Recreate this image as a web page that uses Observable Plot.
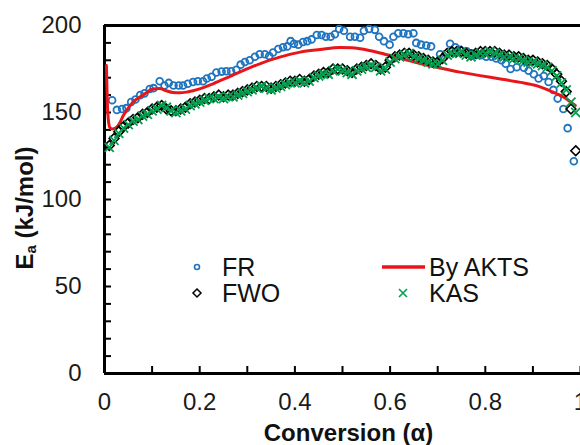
<!DOCTYPE html>
<html><head><meta charset="utf-8">
<script src="https://cdn.jsdelivr.net/npm/d3@7"></script>
<script src="https://cdn.jsdelivr.net/npm/@observablehq/plot@0.6"></script>
<style>body{margin:0;background:#fff;} #chart{width:580px;height:445px;overflow:hidden;}</style>
</head><body><div id="chart"></div>
<script>
// Conversion grid shared by FWO and KAS
const isoAlpha = [0.01,0.02,0.03,0.04,0.05,0.06,0.07,0.08,0.09,0.10,
  0.11,0.12,0.13,0.14,0.15,0.16,0.17,0.18,0.19,0.20,
  0.21,0.22,0.23,0.24,0.25,0.26,0.27,0.28,0.29,0.30,
  0.31,0.32,0.33,0.34,0.35,0.36,0.37,0.38,0.39,0.40,
  0.41,0.42,0.43,0.44,0.45,0.46,0.47,0.48,0.49,0.50,
  0.51,0.52,0.53,0.54,0.55,0.56,0.57,0.58,0.59,0.60,
  0.61,0.62,0.63,0.64,0.65,0.66,0.67,0.68,0.69,0.70,
  0.71,0.72,0.73,0.74,0.75,0.76,0.77,0.78,0.79,0.80,
  0.81,0.82,0.83,0.84,0.85,0.86,0.87,0.88,0.89,0.90,
  0.91,0.92,0.93,0.94,0.95,0.96,0.97,0.98,0.99];
const kasEa = [130,134,138,141,143,145,146,148,149,151,
  152,154,153,151,150,151,152,154,155,156,
  157,158,158,159,158,159,159,160,161,162,
  163,164,165,164,163,164,165,166,167,167,
  168,167,168,170,171,172,172,174,175,174,
  173,172,174,175,176,177,176,174,175,179,
  181,182,183,184,182,181,180,179,178,178,
  180,183,184,184,185,183,182,183,184,184,
  185,184,183,182,182,181,181,180,179,179,
  178,177,176,174,171,167,163,156,150];
const fwoEa = [131,135,139,142,144,146,147,149,150,152,
  153,154,152,151,151,152,153,155,156,157,
  158,158,159,160,159,160,160,161,162,163,
  164,165,165,165,164,165,166,167,168,168,
  169,168,169,171,172,173,173,175,175,175,
  174,173,175,176,177,178,177,175,176,180,
  182,183,184,184,183,182,181,180,179,179,
  181,184,185,185,185,184,183,184,185,185,
  185,185,184,183,183,182,182,181,180,180,
  179,178,177,175,172,168,162,152,128];

// Friedman (FR)
const frAlpha = [0.016,0.026,0.037,0.046,0.056,0.065,0.075,0.084,0.095,0.103,
  0.116,0.126,0.135,0.145,0.156,0.165,0.175,0.186,0.196,0.207,
  0.215,0.225,0.235,0.246,0.256,0.266,0.277,0.286,0.295,0.305,
  0.316,0.326,0.337,0.346,0.354,0.365,0.375,0.384,0.391,0.398,
  0.407,0.417,0.426,0.435,0.446,0.456,0.465,0.475,0.484,0.493,
  0.503,0.516,0.526,0.537,0.545,0.556,0.568,0.577,0.587,0.599,
  0.607,0.617,0.628,0.638,0.649,0.655,0.665,0.676,0.686,0.705,
  0.726,0.737,0.747,0.761,0.771,0.781,0.792,0.802,0.813,0.823,
  0.834,0.843,0.853,0.866,0.881,0.891,0.902,0.912,0.923,0.933,
  0.943,0.952,0.964,0.973,0.986];
const frEa = [157,151.5,152,152.5,156,157.5,160,161,163.5,164,
  168,165.5,167,165.5,165.5,165.5,166.5,167.5,168,168,
  169.5,170.5,173,173.5,173.7,173.7,174.5,177.5,179,180,
  182,183.5,183.5,182.5,184.5,186.5,187.5,188,191,189.5,
  189,190.5,191,192,194.5,194.5,193.5,193.5,195,198,
  197,193.5,193.5,193,197,198,197.5,193.5,191,189,
  193.5,195.5,195.5,195,195.5,190,189,188.5,188,183.5,
  189.5,187.5,186,185.2,184,183,183,182,182,181,
  180,178,175,176,175.7,174,172,169.5,171,167.5,
  163,158,152,141,122];

// By AKTS
const aktsAlpha = [0.004,0.005,0.006,0.008,0.011,0.016,0.025,0.032,0.039,0.046,0.06,
  0.081,0.102,0.116,0.13,0.144,0.158,0.172,0.186,0.2,0.228,
  0.253,0.284,0.326,0.368,0.411,0.453,0.495,0.52,0.537,0.579,
  0.621,0.663,0.705,0.747,0.789,0.832,0.874,0.909,0.937,0.965,0.989];
const aktsEa = [177,166,155,146,141.5,140.5,141.5,144,148,151,156,
  160,163.5,163.8,162.5,161.5,161.3,161.7,162.5,163.6,166.5,
  169.4,173.2,178,181.8,184.7,186.2,187.4,187.2,186.6,184.2,
  181.2,178.2,175.6,173.2,171.2,169.3,167.3,165.3,162.3,158.8,154];

const yMajor = [0,50,100,150,200];
const yMinor = [0,10,20,30,40,50,60,70,80,90,100,110,120,130,140,150,160,170,180,190,200];
const xTicks = [0,0.1,0.2,0.3,0.4,0.5,0.6,0.7,0.8,0.9,1];
const xLabels = [0,0.2,0.4,0.6,0.8,1];

const colFR = "#1f74c0", colAKTS = "#e8161b", colKAS = "#00a04e", colFWO = "#000";

const fr = frAlpha.map((a,i)=>({a, e: frEa[i]}));
const kas = isoAlpha.map((a,i)=>({a, e: kasEa[i]}));
const fwo = isoAlpha.map((a,i)=>({a, e: fwoEa[i]}));
const akts = aktsAlpha.map((a,i)=>({a, e: aktsEa[i]}));

const plot = Plot.plot({
  width: 580, height: 445,
  marginLeft: 104, marginRight: 0, marginTop: 25, marginBottom: 72,
  x: {domain: [0, 1]},
  y: {domain: [0, 200]},
  style: {fontFamily: "'Liberation Sans', Arial, sans-serif", fontSize: "24px", color: "#111", background: "white", overflow: "visible"},
  marks: [
    Plot.axisY(yMinor, {tickSize: 7, dx: 7, tickFormat: () => "", strokeWidth: 2, stroke: "#000", label: null}),
    Plot.axisY(yMajor, {tickSize: 0, tickPadding: 23, fill: "#1a1a1a", fontSize: 24, label: null}),
    Plot.axisX(xTicks, {tickSize: 7, dy: -7, tickFormat: () => "", strokeWidth: 2, stroke: "#000", label: null}),
    Plot.axisX(xLabels, {tickSize: 0, tickPadding: 19, fill: "#1a1a1a", fontSize: 24, tickFormat: d => String(d), label: null}),
    Plot.ruleX([0], {stroke: "#000", strokeWidth: 3}),
    Plot.ruleY([0, 200], {stroke: "#000", strokeWidth: 3}),
    Plot.dot(fr, {x: "a", y: "e", r: 3.4, stroke: colFR, strokeWidth: 1.8, fill: "none"}),
    Plot.line(akts, {x: "a", y: "e", stroke: colAKTS, strokeWidth: 3, curve: "monotone-x"}),
    Plot.dot(fwo, {x: "a", y: "e", symbol: "diamond2", r: 4.4, stroke: colFWO, strokeWidth: 1.6, fill: "none"}),
    Plot.dot(kas, {x: "a", y: "e", symbol: "times", r: 4.2, stroke: colKAS, strokeWidth: 1.8}),
    Plot.text(["Conversion (α)"], {frameAnchor: "bottom", dy: 60, dx: 6, fontWeight: "bold", fontSize: 24, fill: "#111", lineAnchor: "middle"})
  ]
});
document.getElementById("chart").append(plot);

const svg = d3.select(plot);
// Y axis title with subscript
const yt = svg.append("text")
  .attr("transform", "translate(24,208) rotate(-90)")
  .attr("text-anchor", "middle").attr("dominant-baseline", "central")
  .attr("font-weight", "bold").attr("font-size", 24).attr("fill", "#111");
yt.append("tspan").text("E");
yt.append("tspan").attr("font-size", 15).attr("dy", 6).text("a");
yt.append("tspan").attr("dy", -6).text(" (kJ/mol)");

// Legend
const leg = svg.append("g").attr("font-size", 25).attr("fill", "#111").attr("text-anchor", "start");
const items = [
  {label: "FR", mx: 197, my: 267, kind: "circle"},
  {label: "FWO", mx: 197, my: 293, kind: "diamond"},
  {label: "By AKTS", mx: 403, my: 267, kind: "line"},
  {label: "KAS", mx: 403, my: 293, kind: "times"}
];
for (const it of items) {
  if (it.kind === "circle") leg.append("circle").attr("cx", it.mx).attr("cy", it.my).attr("r", 2.5).attr("fill", "none").attr("stroke", colFR).attr("stroke-width", 1.6);
  if (it.kind === "diamond") leg.append("path").attr("d", `M${it.mx},${it.my-4}L${it.mx+4},${it.my}L${it.mx},${it.my+4}L${it.mx-4},${it.my}Z`).attr("fill", "none").attr("stroke", "#000").attr("stroke-width", 1.5);
  if (it.kind === "line") leg.append("line").attr("x1", 382).attr("x2", 425).attr("y1", it.my).attr("y2", it.my).attr("stroke", colAKTS).attr("stroke-width", 3.5);
  if (it.kind === "times") leg.append("path").attr("d", `M${it.mx-4},${it.my-4}L${it.mx+4},${it.my+4}M${it.mx-4},${it.my+4}L${it.mx+4},${it.my-4}`).attr("stroke", colKAS).attr("stroke-width", 1.6);
  const tx = it.kind === "circle" || it.kind === "diamond" ? 222 : 429;
  leg.append("text").attr("x", tx).attr("y", it.my).attr("dominant-baseline", "central").text(it.label);
}
</script>
</body></html>
